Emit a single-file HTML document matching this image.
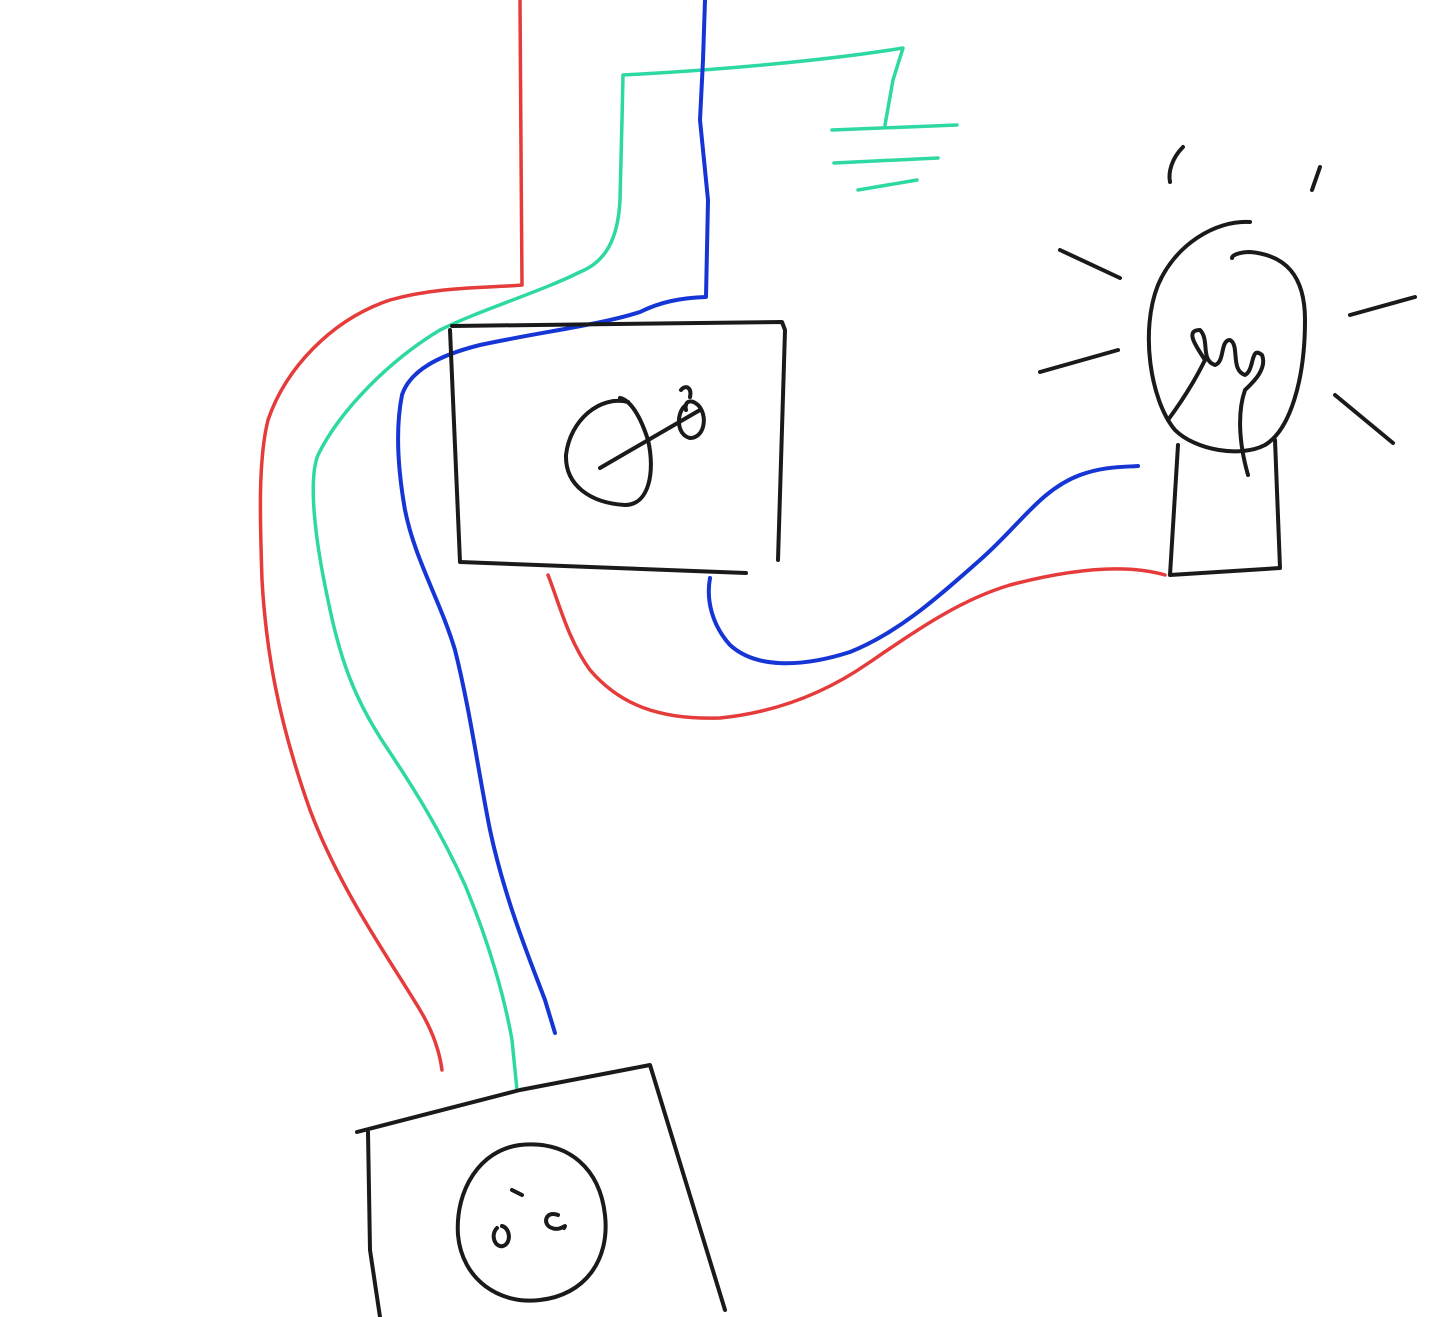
<!DOCTYPE html>
<html><head><meta charset="utf-8"><style>html,body{margin:0;padding:0;background:#fff}svg{display:block}</style></head>
<body>
<svg width="1443" height="1317" viewBox="0 0 1443 1317" xmlns="http://www.w3.org/2000/svg" fill="none" stroke-linecap="round" stroke-linejoin="round">
<!-- red -->
<g stroke="#e53b3b" stroke-width="3.5">
<path d="M520,0 L521,150 L522,285 C490,288 440,286 390,300 C330,320 285,370 268,420 C258,460 260,520 262,580 C266,650 278,720 310,810 C340,890 390,960 420,1010 C435,1035 440,1055 442,1070"/>
<path d="M548,575 C558,600 568,640 590,670 C620,705 660,720 720,718 C780,712 830,690 870,662 C920,628 960,600 1010,585 C1060,572 1120,562 1165,575"/>
</g>
<!-- green -->
<g stroke="#2ed8a2" stroke-width="3.5">
<path d="M885,125 L893,80 L903,48 C830,60 720,70 623,75 L622,120 L620,200 C618,240 605,262 580,272 C540,292 480,310 440,330 C390,360 340,410 318,455 C308,480 315,540 328,600 C340,660 355,700 385,745 C415,790 440,830 465,885 C490,945 505,1000 512,1040 L517,1090"/>
<path d="M832,130 L957,125"/>
<path d="M834,163 L938,158"/>
<path d="M858,190 L917,180"/>
</g>
<!-- blue -->
<g stroke="#1536d4" stroke-width="4">
<path d="M705,0 L703,60 L700,120 L708,200 L706,297 C680,298 660,302 640,312 C600,325 540,332 480,345 C440,355 410,370 402,395 C395,430 398,470 405,510 C415,560 440,600 455,650 C470,710 478,770 490,830 C505,900 530,960 545,1000 L555,1033"/>
<path d="M710,578 C706,600 712,625 730,645 C755,668 800,668 850,652 C900,632 940,595 980,560 C1020,525 1040,490 1080,475 C1105,466 1125,467 1138,466"/>
</g>
<!-- black -->
<g stroke="#1a1a1a" stroke-width="4">
<!-- switch box -->
<path d="M452,326 L782,322 L785,330 L778,560"/>
<path d="M450,330 L460,562 L746,573"/>
<path d="M628,402 C600,395 570,420 566,455 C565,485 590,503 625,505 C650,505 655,470 648,440 C640,415 630,400 620,398"/>
<path d="M600,468 L700,410"/>
<path d="M686,405 C676,412 676,435 690,438 C705,438 708,415 698,405 C690,398 684,402 686,410"/>
<path d="M681,390 C686,384 692,388 690,397"/>
<!-- outlet -->
<path d="M357,1132 L520,1090 L650,1065 L725,1310"/>
<path d="M368,1132 L370,1250 L380,1317"/>
<path d="M520,1145 C480,1150 455,1190 458,1235 C462,1280 500,1305 540,1300 C585,1295 610,1260 605,1215 C600,1170 570,1140 520,1145 Z"/>
<path d="M497,1228 C490,1235 495,1248 503,1246 C512,1243 510,1228 502,1226"/>
<path d="M558,1215 C545,1210 542,1225 552,1228 C560,1232 568,1222 564,1228"/>
<path d="M512,1190 L522,1195"/>
<!-- lamp -->
<path d="M1250,222 C1215,220 1175,245 1158,285 C1140,330 1150,400 1175,430 C1195,450 1240,458 1265,445 C1290,430 1305,380 1305,320 C1305,275 1285,255 1250,252 C1240,252 1232,255 1232,258"/>
<path d="M1178,445 L1170,575 L1280,568 L1275,440"/>
<path d="M1168,420 C1190,390 1200,370 1205,360 C1195,345 1185,330 1200,330 C1210,340 1200,360 1215,365 C1225,362 1220,340 1230,340 C1240,345 1230,370 1245,375 C1255,370 1250,345 1262,355 C1268,370 1250,385 1245,390 C1238,410 1238,440 1248,475"/>
<path d="M1060,250 L1120,278"/>
<path d="M1040,372 L1118,350"/>
<path d="M1350,315 L1415,297"/>
<path d="M1335,395 L1393,443"/>
<path d="M1183,147 C1172,158 1168,172 1170,182"/>
<path d="M1320,167 L1312,190"/>
</g>
</svg>
</body></html>
